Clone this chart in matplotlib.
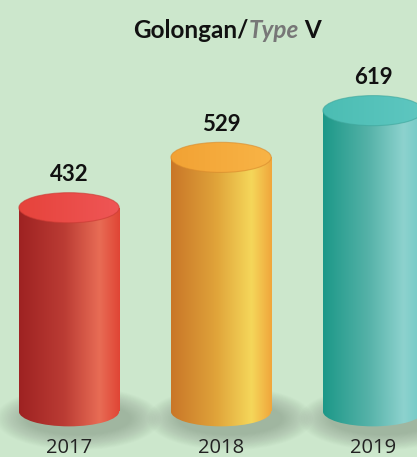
import numpy as np
import matplotlib.pyplot as plt
from matplotlib.patches import Ellipse, Rectangle
from matplotlib.colors import LinearSegmentedColormap
from matplotlib.offsetbox import TextArea, HPacker, AnnotationBbox

# data
years = ['2017', '2018', '2019']
values = [432, 529, 619]

# colours: body gradient stops (left -> right) and top face
body_stops = [
    ['#9e2222', '#bb3c34', '#e86c55', '#e04535'],
    ['#c97628', '#e0a43a', '#f5d75a', '#f0a63c'],
    ['#1c9888', '#55b2a8', '#8dd2ce', '#6ec8c5'],
]
top_stops = [
    ['#e6433b', '#ef5656'],
    ['#f2a234', '#f8b446'],
    ['#4bbdb3', '#5fc7c1'],
]
rim_colors = ['#c93a33', '#d98a2c', '#3ea69c']
bg = '#cce7cc'

base = 40
bar_w = 0.66
ell_h = 58

fig = plt.figure(figsize=(4.17, 4.57), dpi=100)
fig.patch.set_facecolor(bg)
ax = fig.add_axes([0, 0, 1, 1])
ax.set_facecolor(bg)
ax.axis('off')

grad = np.linspace(0, 1, 256).reshape(1, -1)

for i, (yr, v) in enumerate(zip(years, values)):
    x0 = i - bar_w / 2
    x1 = i + bar_w / 2

    # soft shadow below and to the right of the base
    n = 20
    for k in range(n):
        f = k / (n - 1)
        sh = Ellipse((i + 0.06, base - 14), bar_w * (1.65 - 0.6 * f),
                     ell_h * (2.1 - 1.0 * f), facecolor='#7a857a',
                     edgecolor='none', alpha=0.028, zorder=1)
        ax.add_patch(sh)

    cmap = LinearSegmentedColormap.from_list(
        'b%d' % i, list(zip([0, 0.45, 0.8, 1.0], body_stops[i])))
    rect = Rectangle((x0, base), bar_w, v - base, transform=ax.transData)
    bot = Ellipse((i, base), bar_w, ell_h, transform=ax.transData)
    for clip in (rect, bot):
        im = ax.imshow(grad, cmap=cmap, aspect='auto', zorder=2,
                       extent=[x0, x1, base - ell_h, v], interpolation='bicubic')
        im.set_clip_path(clip)

    tmap = LinearSegmentedColormap.from_list('t%d' % i, top_stops[i])
    top = Ellipse((i, v), bar_w, ell_h, transform=ax.transData)
    im = ax.imshow(grad, cmap=tmap, aspect='auto', zorder=3,
                   extent=[x0, x1, v - ell_h / 2, v + ell_h / 2])
    im.set_clip_path(top)
    ax.add_patch(Ellipse((i, v), bar_w, ell_h, facecolor='none',
                         edgecolor=rim_colors[i], lw=0.8, alpha=0.6, zorder=4))

    ax.text(i, v + 64, str(v), ha='center', va='center', fontsize=16,
            fontweight='bold', family='Lato', color='#111111', zorder=5)
    ax.text(i, -30, yr, ha='center', va='center', fontsize=14.5,
            family='Open Sans', color='#222222', zorder=5)

ax.set_xlim(-0.454, 2.289)
ax.set_ylim(-48, 832)

# title with italic grey part
tp = dict(fontsize=17.5, fontweight='bold', family='Lato', color='#111111')
parts = [
    TextArea('Golongan/', textprops=tp),
    TextArea('Type', textprops=dict(tp, color='#777777', style='italic')),
    TextArea(' V', textprops=tp),
]
box = HPacker(children=parts, align='baseline', pad=0, sep=0)
ab = AnnotationBbox(box, (0.545, 0.934), xycoords='figure fraction',
                    frameon=False, box_alignment=(0.5, 0.5))
ax.add_artist(ab)

fig.savefig('out.png', dpi=100, facecolor=bg)
